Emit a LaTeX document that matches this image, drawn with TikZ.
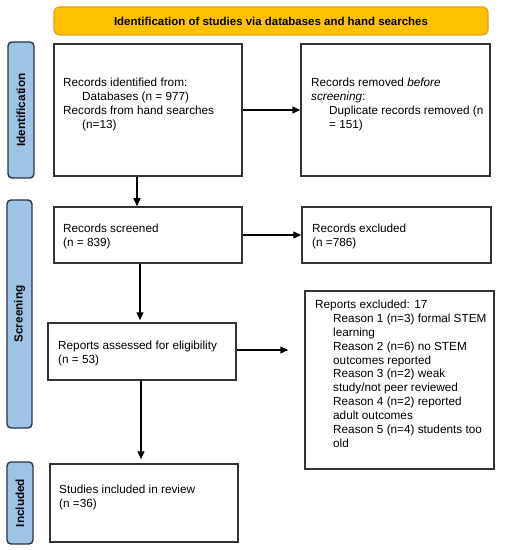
\documentclass[tikz,border=0pt]{standalone}
\usepackage{fontspec}
\setmainfont{Liberation Sans}
\usetikzlibrary{arrows.meta}
\definecolor{bannerfill}{HTML}{FFC000}
\definecolor{bannerdraw}{HTML}{E3A21A}
\definecolor{phasefill}{HTML}{9DC3E6}
\definecolor{phasedraw}{HTML}{2B3440}
\definecolor{boxdraw}{HTML}{333333}
\begin{document}
\begin{tikzpicture}[x=1bp,y=-1bp,
  box/.style={draw=boxdraw, line width=1.5bp, inner sep=0pt, fill=white},
  txt/.style={font=\fontsize{11.8}{14}\selectfont, align=left, inner sep=0pt, anchor=north west},
  phase/.style={draw=phasedraw, fill=phasefill, rounded corners=4bp, line width=1.4bp, rotate=90, inner sep=0pt, font=\bfseries\fontsize{11.8}{14}\selectfont},
  banner/.style={draw=bannerdraw, fill=bannerfill, rounded corners=5bp, line width=1.2bp, inner sep=0pt, font=\bfseries\fontsize{11.5}{14}\selectfont},
  arr/.style={draw=black, line width=1.3bp, -{Triangle[length=8bp,width=7bp]}}]
\useasboundingbox (0,0) rectangle (507,550);

\node[banner, minimum width=434bp, minimum height=28bp] (ban) at (271,21) {Identification of studies via databases and hand searches};

\node[phase, minimum width=136bp, minimum height=26bp] (idlab) at (21,110) {Identification};
\node[phase, minimum width=228bp, minimum height=25bp] (scrlab) at (19.5,314) {Screening};
\node[phase, minimum width=82bp, minimum height=26bp] (inclab) at (20,503) {Included};

\node[box, minimum width=188bp, minimum height=132bp] (b1) at (148,110) {};
\node[box, minimum width=189bp, minimum height=132bp] (b2) at (395.5,110) {};
\node[box, minimum width=188bp, minimum height=56bp] (b3) at (148,235) {};
\node[box, minimum width=189bp, minimum height=56bp] (b4) at (396.5,235) {};
\node[box, minimum width=188bp, minimum height=57bp] (b5) at (142,351.5) {};
\node[box, minimum width=189bp, minimum height=178bp] (b6) at (399.5,380) {};
\node[box, minimum width=188bp, minimum height=78bp] (b7) at (144,503) {};

\node[txt] (t1) at (63,77.5) {Records identified from:\\\hspace*{19bp}Databases (n = 977)\\Records from hand searches\\\hspace*{19bp}(n=13)};
\node[txt] (t2) at (311,77.5) {Records removed \textit{before}\\\textit{screening}:\\\hspace*{18bp}Duplicate records removed (n\\\hspace*{18bp}= 151)};
\node[txt] (t3) at (63,223.5) {Records screened\\(n = 839)};
\node[txt] (t4) at (312,223.5) {Records excluded\\(n =786)};
\node[txt] (t5) at (58,340.5) {Reports assessed for eligibility\\(n = 53)};
\node[txt] (t6) at (315,299.5) {Reports excluded: 17\\
\hspace*{18bp}Reason 1 (n=3) formal STEM\\\hspace*{18bp}learning\\
\hspace*{18bp}Reason 2 (n=6) no STEM\\\hspace*{18bp}outcomes reported\\
\hspace*{18bp}Reason 3 (n=2) weak\\\hspace*{18bp}study/not peer reviewed\\
\hspace*{18bp}Reason 4 (n=2) reported\\\hspace*{18bp}adult outcomes\\
\hspace*{18bp}Reason 5 (n=4) students too\\\hspace*{18bp}old};
\node[txt] (t7) at (59,484.5) {Studies included in review\\(n =36)};

\draw[arr] (b1) -- (b2);
\draw[arr] ([xshift=-11bp]b1.south) -- ([xshift=-11bp]b1.south |- b3.north);
\draw[arr] (b3) -- (b4);
\draw[arr, shorten >=2bp] ([xshift=-8bp]b3.south) -- ([xshift=-8bp]b3.south |- b5.north);
\draw[arr, shorten >=16bp] ([yshift=1.5bp]b5.east) -- ([yshift=1.5bp]b5.east -| b6.west);
\draw[arr, shorten >=4bp] ([xshift=-1bp]b5.south) -- ([xshift=-1bp]b5.south |- b7.north);
\end{tikzpicture}
\end{document}
